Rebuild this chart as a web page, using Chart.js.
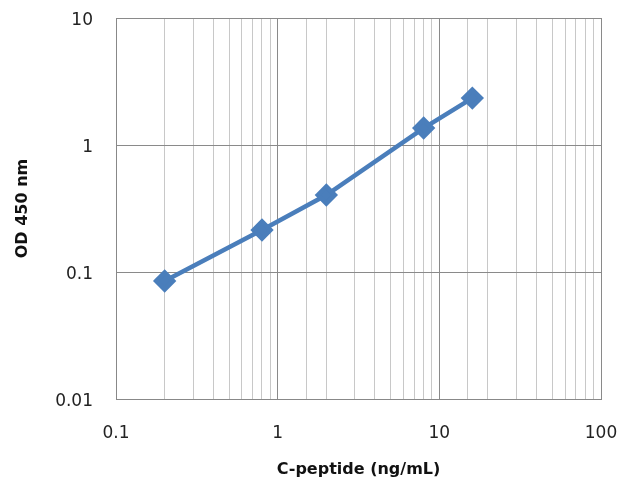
<!DOCTYPE html>
<html>
<head>
<meta charset="utf-8">
<script src="https://cdn.jsdelivr.net/npm/chart.js@4"></script>
<style>
  html, body { margin: 0; padding: 0; background: #fff; }
  #wrap { width: 623px; height: 479px; }
</style>
</head>
<body>
<div id="wrap"><canvas id="curve" width="623" height="479"></canvas></div>
<script>
// standard curve
const concentrations = [0.2, 0.8, 2, 8, 16];
const odValues = [0.085, 0.214, 0.404, 1.36, 2.34];
const xTickLabels = [0.1, 1, 10, 100];
const yTickLabels = [0.01, 0.1, 1, 10];

const points = concentrations.map((c, i) => ({ x: c, y: odValues[i] }));

function isMajor(v, list) {
    return list.some(t => Math.abs(t - v) / t < 1e-6);
}

const canvas = document.getElementById("curve");
const curveChart = new Chart(canvas, {
    type: "line",
    data: {
        datasets: [{
            data: points,
            borderColor: "#4a7ebb",
            backgroundColor: "#4a7ebb",
            borderWidth: 4.5,
            pointStyle: "rectRot",
            pointRadius: 8.5,
            pointHoverRadius: 8.5,
            tension: 0
        }]
    },
    options: {
        responsive: false,
        animation: false,
        layout: { padding: { left: 13, top: 18, right: 22, bottom: 0 } },
        plugins: {
            legend: { display: false },
            tooltip: { enabled: false }
        },
        scales: {
            x: {
                type: "logarithmic",
                min: 0.1,
                max: 100,
                afterFit: (scale) => {
                    scale.height = 80;
                    scale.paddingLeft = 0;
                    scale.paddingRight = 0;
                },
                border: { color: "#888", width: 1 },
                grid: {
                    drawTicks: false,
                    color: (ctx) => isMajor(ctx.tick.value, xTickLabels) ? "#8a8a8a" : "#c8c8c8",
                    lineWidth: 1
                },
                ticks: {
                    autoSkip: false,
                    maxRotation: 0,
                    padding: 24,
                    color: "#222",
                    font: { family: "DejaVu Sans", size: 17 },
                    callback: (v) => isMajor(v, xTickLabels) ? String(v) : ""
                },
                title: {
                    display: true,
                    text: "C-peptide (ng/mL)",
                    color: "#111",
                    font: { family: "DejaVu Sans", size: 16, weight: "bold" },
                    padding: { top: 4, bottom: 0 }
                }
            },
            y: {
                type: "logarithmic",
                min: 0.01,
                max: 10,
                afterFit: (scale) => {
                    scale.width = 103;
                    scale.paddingTop = 0;
                    scale.paddingBottom = 0;
                },
                border: { color: "#888", width: 1 },
                grid: {
                    drawTicks: false,
                    color: (ctx) => isMajor(ctx.tick.value, yTickLabels) ? "#8a8a8a" : "rgba(0,0,0,0)",
                    lineWidth: 1
                },
                ticks: {
                    autoSkip: false,
                    padding: 23,
                    labelOffset: 3,
                    color: "#222",
                    font: { family: "DejaVu Sans", size: 17 },
                    callback: (v) => isMajor(v, yTickLabels) ? String(v) : ""
                },
                title: {
                    display: true,
                    text: "OD 450 nm",
                    color: "#111",
                    font: { family: "DejaVu Sans", size: 16, weight: "bold" },
                    padding: { top: 0, bottom: 0 }
                }
            }
        }
    }
});
</script>
</body>
</html>
